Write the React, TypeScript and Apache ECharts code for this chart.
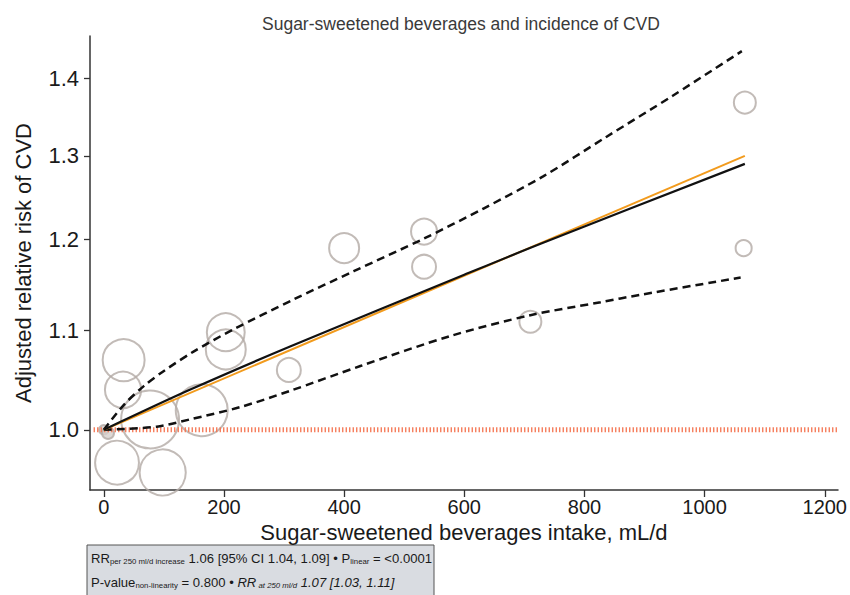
import React, { useEffect, useRef } from "react";
import * as echarts from "echarts";

// ---- data ----
const xTicks = [0, 200, 400, 600, 800, 1000, 1200];
const yTicks = [1.0, 1.1, 1.2, 1.3, 1.4];

// individual study estimates (intake mL/d, relative risk, study weight)
const studyIntake = [0, 7, 33, 32, 22, 98, 77, 163, 203, 203, 308, 400, 533, 533, 710, 1067, 1065];
const studyRR = [1.0, 0.997, 1.069, 1.039, 0.969, 0.96, 1.01, 1.019, 1.098, 1.08, 1.059, 1.19, 1.209, 1.169, 1.109, 1.368, 1.19];
const studyWeight = [2.2, 3.5, 43, 32, 47, 52, 82, 66, 35, 39, 14, 22, 16.5, 14, 11.8, 11.8, 6.3];

// dose-response spline (black)
const splineX = [0, 143, 310, 600, 727, 1067];
const splineRR = [1.0, 1.039, 1.083, 1.16, 1.195, 1.29];

// linear dose-response (orange)
const linearX = [0, 1067];
const linearRR = [1.0, 1.3];

// upper 95% CI (dashed)
const upperX = [0, 33, 67, 100, 150, 216, 316, 416, 533, 632, 732, 837, 947, 1062];
const upperRR = [1.0, 1.024, 1.043, 1.058, 1.078, 1.101, 1.133, 1.164, 1.201, 1.236, 1.275, 1.324, 1.377, 1.437];

// lower 95% CI (dashed)
const lowerX = [0, 88, 143, 227, 310, 427, 577, 710, 827, 893, 1060];
const lowerRR = [1.0, 1.003, 1.01, 1.022, 1.038, 1.063, 1.094, 1.116, 1.13, 1.138, 1.157];

// reference line
const refX = [-17, 1222];
const refRR = [1.0, 1.0];

const FONT = "'Liberation Sans', Arial, Helvetica, sans-serif";

export default function App() {
  const ref = useRef<HTMLDivElement>(null);

  useEffect(() => {
    const chart = echarts.init(ref.current!, null, { renderer: "svg" });
    const L = Math.log;
    const pts = (xs: number[], ys: number[]) => xs.map((x, i) => [x, L(ys[i])]);

    chart.setOption({
      animation: false,
      backgroundColor: "#ffffff",
      textStyle: { fontFamily: FONT },
      title: {
        text: "Sugar-sweetened beverages and incidence of CVD",
        left: 257,
        top: 10,
        textStyle: { fontFamily: FONT, fontSize: 17.5, fontWeight: "normal", color: "#3a3a3a" },
      },
      grid: { left: 90, right: 12, top: 36, bottom: 105 },
      xAxis: {
        type: "value",
        min: -23,
        max: 1222,
        name: "Sugar-sweetened beverages intake, mL/d",
        nameLocation: "middle",
        nameGap: 25,
        nameTextStyle: { fontFamily: FONT, fontSize: 22, color: "#1a1a1a" },
        axisLine: { show: true, onZero: false, lineStyle: { color: "#333", width: 1.5 } },
        axisTick: { show: true, length: 7, customValues: xTicks, lineStyle: { color: "#333", width: 1.3 } },
        axisLabel: {
          customValues: xTicks,
          formatter: (v: number) => String(v),
          fontSize: 20,
          color: "#1a1a1a",
          margin: 7,
          fontFamily: FONT,
        },
        splitLine: { show: false },
      },
      yAxis: {
        type: "value",
        min: L(0.944),
        max: L(1.458),
        name: "Adjusted relative risk of CVD",
        nameLocation: "middle",
        nameGap: 56,
        nameTextStyle: { fontFamily: FONT, fontSize: 22, color: "#1a1a1a" },
        axisLine: { show: true, onZero: false, lineStyle: { color: "#333", width: 1.5 } },
        axisTick: { show: true, length: 6, customValues: yTicks.map((v) => L(v)), lineStyle: { color: "#333", width: 1.3 } },
        axisLabel: {
          customValues: yTicks.map((v) => L(v)),
          formatter: (v: number) => Math.exp(v).toFixed(1),
          fontSize: 22,
          color: "#1a1a1a",
          margin: 11,
          fontFamily: FONT,
        },
        splitLine: { show: false },
      },
      series: [
        {
          type: "scatter",
          silent: true,
          data: studyIntake.map((x, i) => ({
            value: [x, L(studyRR[i])],
            symbolSize: 6.4 * Math.sqrt(studyWeight[i]),
            itemStyle: i < 2 ? { color: "#d6d0cc" } : undefined,
          })),
          itemStyle: { color: "rgba(0,0,0,0)", borderColor: "#b3aaa5", borderWidth: 2 },
        },
        {
          type: "line",
          silent: true,
          symbol: "none",
          data: pts(refX, refRR),
          lineStyle: { color: "#f5734f", width: 5, type: [1.3, 2.2] },
        },
        {
          type: "line",
          silent: true,
          symbol: "none",
          data: pts(upperX, upperRR),
          smooth: 0.3,
          lineStyle: { color: "#111", width: 2.5, type: [8, 5] },
        },
        {
          type: "line",
          silent: true,
          symbol: "none",
          data: pts(lowerX, lowerRR),
          smooth: 0.3,
          lineStyle: { color: "#111", width: 2.5, type: [8, 5] },
        },
        {
          type: "line",
          silent: true,
          symbol: "none",
          data: pts(linearX, linearRR),
          lineStyle: { color: "#f29b1d", width: 2 },
        },
        {
          type: "line",
          silent: true,
          symbol: "none",
          data: pts(splineX, splineRR),
          smooth: 0.3,
          lineStyle: { color: "#111", width: 2.2 },
        },
      ],
      graphic: [
        {
          type: "rect",
          silent: true,
          shape: { x: 87, y: 545, width: 347, height: 60 },
          style: { fill: "#d9dce1", stroke: "#555", lineWidth: 1 },
        },
        {
          type: "text",
          silent: true,
          x: 91,
          y: 548,
          style: {
            text: "{m|RR}{s|per 250 ml/d increase}{m| 1.06 [95% CI 1.04, 1.09] • P}{s|linear}{m| = <0.0001}",
            fontFamily: FONT,
            rich: {
              m: { fontSize: 13.1, lineHeight: 17, verticalAlign: "bottom", fill: "#1a1a1a", fontFamily: FONT },
              s: { fontSize: 7.8, lineHeight: 8, verticalAlign: "bottom", fill: "#1a1a1a", fontFamily: FONT },
            },
          },
        },
        {
          type: "text",
          silent: true,
          x: 91,
          y: 572,
          style: {
            text: "{m|P-value}{s|non-linearity}{m| = 0.800 • }{mi|RR}{si| at 250 ml/d}{mi| 1.07 [1.03, 1.11]}",
            fontFamily: FONT,
            rich: {
              m: { fontSize: 13.1, lineHeight: 17, verticalAlign: "bottom", fill: "#1a1a1a", fontFamily: FONT },
              s: { fontSize: 7.8, lineHeight: 8, verticalAlign: "bottom", fill: "#1a1a1a", fontFamily: FONT },
              mi: { fontSize: 13.1, lineHeight: 17, verticalAlign: "bottom", fill: "#1a1a1a", fontStyle: "italic", fontFamily: FONT },
              si: { fontSize: 7.8, lineHeight: 8, verticalAlign: "bottom", fill: "#1a1a1a", fontStyle: "italic", fontFamily: FONT },
            },
          },
        },
      ],
    });

    return () => chart.dispose();
  }, []);

  return (
    <div
      ref={ref}
      style={{ position: "fixed", left: 0, top: 0, width: 850, height: 595, background: "#fff" }}
    />
  );
}
